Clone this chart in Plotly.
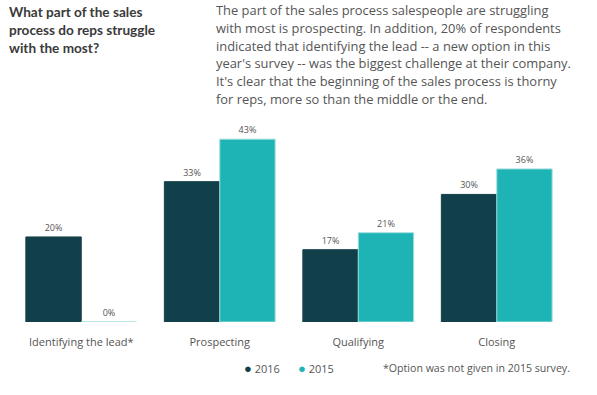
import plotly.graph_objects as go

categories = ["Identifying the lead*", "Prospecting", "Qualifying", "Closing"]
values_2016 = [20, 33, 17, 30]
values_2015 = [0, 43, 21, 36]
series_names = ["2016", "2015"]
colors = ["#12404a", "#1eb4b5"]

title_lines = ["What part of the sales", "process do reps struggle", "with the most?"]
para_lines = [
    "The part of the sales process salespeople are struggling",
    "with most is prospecting. In addition, 20% of respondents",
    "indicated that identifying the lead -- a new option in this",
    "year's survey -- was the biggest challenge at their company.",
    "It's clear that the beginning of the sales process is thorny",
    "for reps, more so than the middle or the end.",
]
footnote = "*Option was not given in 2015 survey."

font_family = "'Open Sans', sans-serif"
title_family = "Lato, sans-serif"
text_col = "#555555"

W, H = 597, 395
L, R, T, B = 12, 31, 120, 73

fig = go.Figure()
for name, vals, col in zip(series_names, [values_2016, values_2015], colors):
    fig.add_trace(go.Bar(
        x=categories, y=vals, name=name,
        marker=dict(color=col, line=dict(color=col if name == "2016" else "#a6dede", width=1)),
        texttemplate="%{y}%", textposition="outside",
        textfont=dict(size=9, color=text_col, family=font_family),
        cliponaxis=False, showlegend=False,
    ))

fig.update_layout(
    width=W, height=H,
    paper_bgcolor="white", plot_bgcolor="white",
    margin=dict(l=L, r=R, t=T, b=B),
    barmode="group", bargap=0.2, bargroupgap=0,
    font=dict(family=font_family, color=text_col),
    xaxis=dict(showgrid=False, showline=False, zeroline=False, ticks="",
               tickfont=dict(size=11, color=text_col, family=font_family), ticklabelstandoff=12),
    yaxis=dict(range=[0, 47.5], visible=False),
)


def px(xp, yp):
    # page pixel coordinates -> paper coordinates
    pw = W - L - R
    ph = H - T - B
    return (xp - L) / pw, (H - B - yp) / ph


annotations = []
for i, line in enumerate(title_lines):
    ax, ay = px(7, 12 + 18 * i)
    annotations.append(dict(
        text=f"<b>{line}</b>", x=ax, y=ay, xref="paper", yref="paper",
        showarrow=False, xanchor="left", yanchor="middle", align="left",
        font=dict(size=13.6, color="#3a3a3a", family=title_family),
    ))
for i, line in enumerate(para_lines):
    ax, ay = px(214, 10 + 17.8 * i)
    annotations.append(dict(
        text=line, x=ax, y=ay, xref="paper", yref="paper",
        showarrow=False, xanchor="left", yanchor="middle", align="left",
        font=dict(size=12.9, color=text_col, family=font_family),
    ))
for name, col, xp in zip(series_names, colors, [242, 296]):
    ax, ay = px(xp, 368)
    annotations.append(dict(
        text=f"<span style='color:{col};font-size:13px'>●</span> {name}", x=ax, y=ay,
        xref="paper", yref="paper",
        showarrow=False, xanchor="left", yanchor="middle",
        font=dict(size=11, color=text_col, family=font_family),
    ))
fx, fy = px(381, 368)
annotations.append(dict(
    text=footnote, x=fx, y=fy, xref="paper", yref="paper",
    showarrow=False, xanchor="left", yanchor="middle",
    font=dict(size=10.6, color=text_col, family=font_family),
))
fig.update_layout(annotations=annotations)

fig.write_html("out.html", config={"displayModeBar": False},
               post_script="document.body.style.margin='0';")
